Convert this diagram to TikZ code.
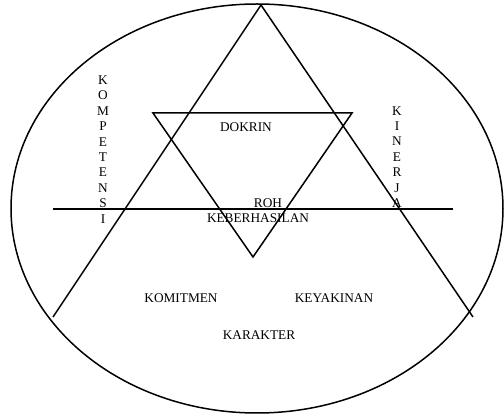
\documentclass[tikz,border=0pt]{standalone}
\usepackage{fontspec}
\setmainfont{Liberation Serif}
\begin{document}
\begin{tikzpicture}[x=1pt,y=-1pt,
  lbl/.style={inner sep=0pt,font=\fontsize{13.3}{15.4}\selectfont},
  vlbl/.style={lbl,align=center},
  ln/.style={line width=1.5pt,line join=miter}]
\useasboundingbox (0,0) rectangle (504,414);
% ellipse
\draw[ln] (257,208.5) ellipse [x radius=246, y radius=204.5];
% big triangle (open bottom)
\coordinate (A) at (261,5);
\coordinate (BL) at (53,317);
\coordinate (BR) at (473,317);
\draw[ln] (BL) -- (A) -- (BR);
% inverted triangle
\coordinate (TL) at (153,113);
\coordinate (TR) at (352,113);
\coordinate (B) at (253,257);
\draw[ln] (TL) -- (TR) -- (B) -- cycle;
% horizontal line
\coordinate (HL) at (53,209);
\coordinate (HR) at (453,209);
\draw[ln] (HL) -- (HR);
% labels
\node[lbl] (dokrin) at (246,127) {DOKRIN};
\node[lbl] (roh) at (268,203) {ROH};
\node[lbl] (keb) at (258,218) {KEBERHASILAN};
\node[lbl] (komit) at (181,298) {KOMITMEN};
\node[lbl] (keya) at (334,298) {KEYAKINAN};
\node[lbl] (kar) at (259,335) {KARAKTER};
\node[vlbl] (komp) at (103,149.5) {K\\O\\M\\P\\E\\T\\E\\N\\S\\I};
\node[vlbl] (kin) at (397,157) {K\\I\\N\\E\\R\\J\\A};
\end{tikzpicture}
\end{document}
